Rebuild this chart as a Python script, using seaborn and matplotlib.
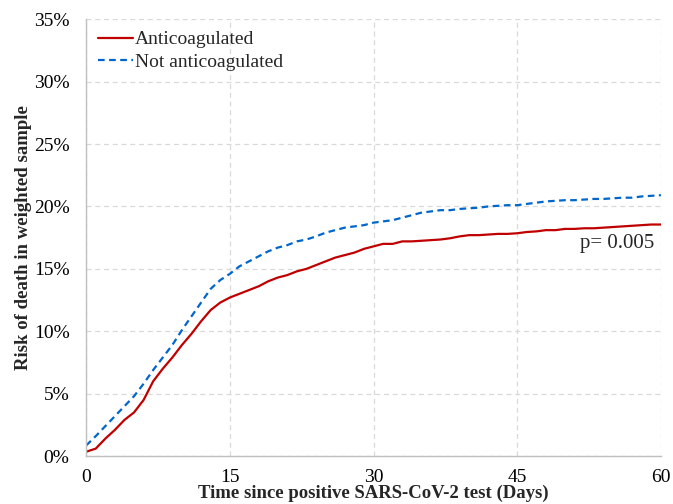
import numpy as np
import pandas as pd
import matplotlib
matplotlib.use('Agg')
import matplotlib.pyplot as plt
from matplotlib.ticker import PercentFormatter
import seaborn as sns

# Data (risk in %, by day since positive test)
days = list(range(0, 61))
anticoag = [0.35, 0.6, 1.4, 2.1, 2.9, 3.5, 4.5, 6.0, 7.0, 7.9,
            8.9, 9.8, 10.8, 11.7, 12.3, 12.7, 13.0, 13.3, 13.6, 14.0,
            14.3, 14.5, 14.8, 15.0, 15.3, 15.6, 15.9, 16.1, 16.3, 16.6,
            16.8, 17.0, 17.0, 17.2, 17.2, 17.25, 17.3, 17.35, 17.45, 17.6,
            17.7, 17.7, 17.75, 17.8, 17.8, 17.85, 17.95, 18.0, 18.1, 18.1,
            18.2, 18.2, 18.25, 18.25, 18.3, 18.35, 18.4, 18.45, 18.5, 18.55,
            18.55]
not_anticoag = [0.85, 1.6, 2.4, 3.2, 4.0, 4.8, 5.8, 6.9, 7.9, 8.9,
                10.1, 11.2, 12.3, 13.4, 14.1, 14.6, 15.2, 15.6, 16.0, 16.4,
                16.7, 16.9, 17.2, 17.35, 17.6, 17.9, 18.1, 18.3, 18.4, 18.5,
                18.7, 18.8, 18.9, 19.1, 19.3, 19.5, 19.6, 19.7, 19.7, 19.8,
                19.85, 19.9, 20.0, 20.05, 20.1, 20.1, 20.2, 20.3, 20.4, 20.45,
                20.5, 20.5, 20.55, 20.6, 20.6, 20.65, 20.7, 20.7, 20.8, 20.85,
                20.9]
groups = ['Anticoagulated', 'Not anticoagulated']
x_ticks = [0, 15, 30, 45, 60]
y_ticks = [0, 5, 10, 15, 20, 25, 30, 35]

df = pd.DataFrame({
    'day': days * 2,
    'risk': anticoag + not_anticoag,
    'group': [groups[0]] * len(days) + [groups[1]] * len(days),
})

sns.set_style('white')
plt.rcParams['font.family'] = ['Liberation Serif', 'DejaVu Serif']

fig = plt.figure(figsize=(6.73, 5.04), dpi=100)
ax = fig.add_axes([0.128, 0.095, 0.854, 0.867])

sns.lineplot(data=df, x='day', y='risk', hue='group', style='group',
             palette={groups[0]: '#C00000', groups[1]: '#0066CC'},
             dashes={groups[0]: '', groups[1]: (3, 2)},
             linewidth=1.6, ax=ax)

ax.set_xlim(0, 60)
ax.set_ylim(0, 35)
ax.set_xticks(x_ticks)
ax.set_yticks(y_ticks)
ax.yaxis.set_major_formatter(PercentFormatter(decimals=0))
ax.tick_params(axis='both', length=0, labelsize=14, colors='black')
ax.tick_params(axis='x', pad=9)
ax.tick_params(axis='y', pad=12)

ax.grid(True, linestyle=(0, (4, 3)), color='#D9D9D9', linewidth=0.9)
for s in ['top', 'right']:
    ax.spines[s].set_visible(False)
for s in ['left', 'bottom']:
    ax.spines[s].set_color('#BFBFBF')
    ax.spines[s].set_linewidth(1.0)

ax.set_xlabel('Time since positive SARS-CoV-2 test (Days)', fontsize=13.5,
              fontweight='bold', labelpad=-1)
ax.set_ylabel('Risk of death in weighted sample', fontsize=13.5,
              fontweight='bold', labelpad=1)

leg = ax.legend(loc='upper left', frameon=False, fontsize=14,
                handlelength=1.8, handletextpad=0.1, borderaxespad=0.2,
                labelspacing=0.25)

ax.text(59.3, 17.0, 'p= 0.005', ha='right', va='center', fontsize=15)

fig.savefig('out.png', dpi=100)
